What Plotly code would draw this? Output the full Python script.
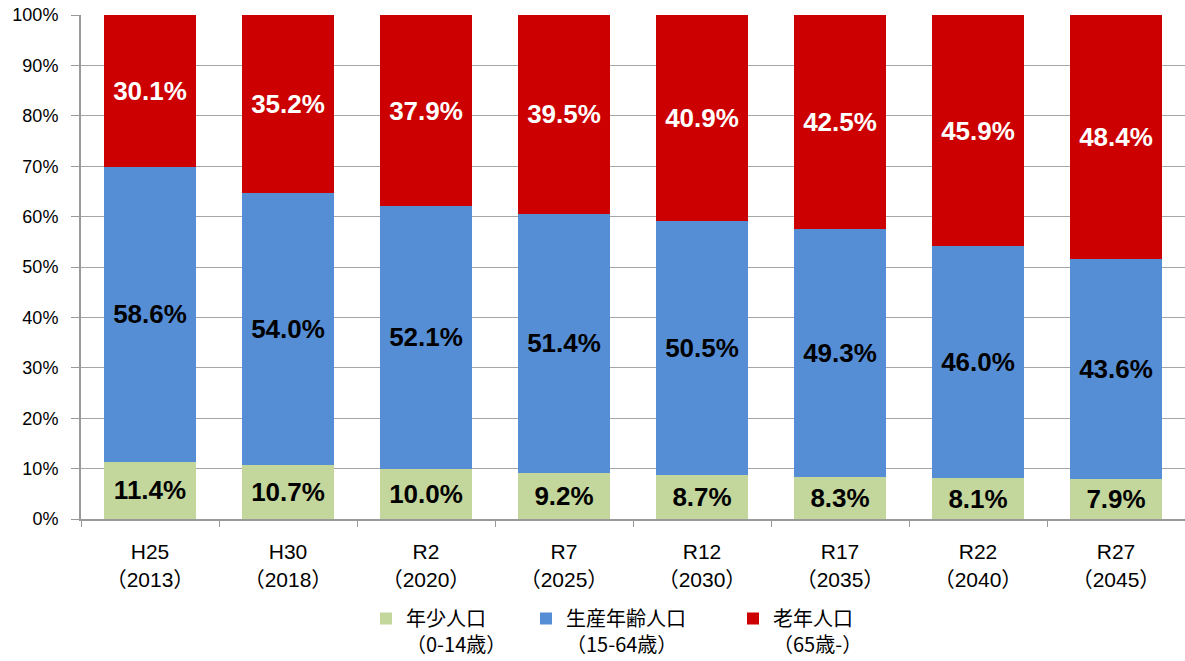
import plotly.graph_objects as go

categories = ["H25<br>（2013）", "H30<br>（2018）", "R2<br>（2020）", "R7<br>（2025）",
              "R12<br>（2030）", "R17<br>（2035）", "R22<br>（2040）", "R27<br>（2045）"]
young = [11.4, 10.7, 10.0, 9.2, 8.7, 8.3, 8.1, 7.9]
working = [58.6, 54.0, 52.1, 51.4, 50.5, 49.3, 46.0, 43.6]
elderly = [30.1, 35.2, 37.9, 39.5, 40.9, 42.5, 45.9, 48.4]
series_names = ["年少人口<br>（0-14歳）", "生産年齢人口<br>（15-64歳）", "老年人口<br>（65歳-）"]
colors = ["#C3D69B", "#558ED5", "#CC0000"]
text_colors = ["black", "black", "white"]

CJK = "Noto Sans CJK JP"
LAT = "Liberation Sans, Noto Sans CJK JP"
PLOT_L, PLOT_R, PLOT_T, PLOT_B = 81, 1185, 15, 519
W, H = 1185, 661

def px_x(p):
    return (p - PLOT_L) / (PLOT_R - PLOT_L)

def px_y(p):
    return (PLOT_B - p) / (PLOT_B - PLOT_T)

legend_marker_px = [385, 545, 752]
legend_keys = ["legend", "legend2", "legend3"]

fig = go.Figure()
for vals, name, col, tc, lk in zip([young, working, elderly], series_names, colors,
                                   text_colors, legend_keys):
    fig.add_trace(go.Bar(
        x=categories, y=vals, name=name, legend=lk,
        marker=dict(color=col, line=dict(width=0)),
        text=[f"{v:.1f}%" for v in vals],
        textposition="inside", insidetextanchor="middle",
        textangle=0,
        textfont=dict(family="Liberation Sans", size=26, color=tc, weight="bold"),
        constraintext="none",
        hoverinfo="skip",
    ))

legend_common = dict(orientation="h", yanchor="top", xanchor="left",
                     font=dict(family=CJK, size=20, color="black"),
                     valign="top", itemwidth=30, itemclick=False,
                     bgcolor="rgba(0,0,0,0)", borderwidth=0)
layout_legends = {}
for lk, mx in zip(legend_keys, legend_marker_px):
    layout_legends[lk] = dict(legend_common, x=px_x(mx - 19), y=px_y(599))

fig.update_layout(
    barmode="stack", barnorm="percent", bargap=0.333,
    width=W, height=H,
    margin=dict(l=PLOT_L, r=W - PLOT_R, t=PLOT_T, b=H - PLOT_B, autoexpand=False),
    plot_bgcolor="white", paper_bgcolor="white",
    showlegend=True,
    hovermode=False,
    **layout_legends,
)
fig.update_yaxes(range=[0, 100], dtick=10, ticksuffix="%", automargin=False,
                 showgrid=True, gridcolor="#A6A6A6", gridwidth=1,
                 showline=True, linecolor="#999999", linewidth=2,
                 ticks="outside", ticklen=8, tickcolor="#999999",
                 ticklabelstandoff=9,
                 tickfont=dict(family="Liberation Sans", size=18, color="black"),
                 zeroline=False)
fig.update_xaxes(showline=True, linecolor="#999999", linewidth=2, automargin=False,
                 ticks="outside", ticklen=6, tickcolor="#999999", tickson="boundaries",
                 ticklabelstandoff=13,
                 tickfont=dict(family=LAT, size=21, color="black"))

fig.write_html("out.html", config={"displayModeBar": False},
               post_script="document.body.style.margin='0';document.body.style.overflow='hidden';")
